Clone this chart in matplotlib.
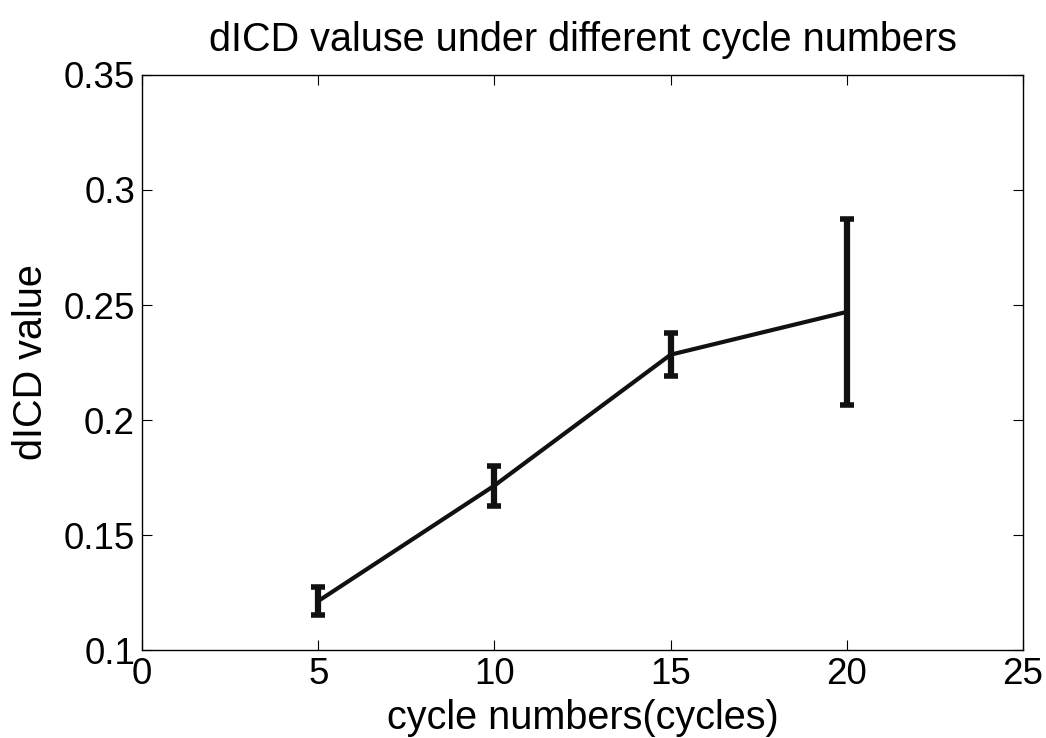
import matplotlib
matplotlib.use("Agg")
import matplotlib.pyplot as plt

cycles = [5, 10, 15, 20]
dicd_mean = [0.1213, 0.1715, 0.2284, 0.2470]
dicd_err = [0.0061, 0.0087, 0.0094, 0.0405]

x_ticks = [0, 5, 10, 15, 20, 25]
y_ticks = [0.1, 0.15, 0.2, 0.25, 0.3, 0.35]
y_tick_labels = ["0.1", "0.15", "0.2", "0.25", "0.3", "0.35"]

plt.rcParams["font.family"] = ["Liberation Sans", "DejaVu Sans"]

fig = plt.figure(figsize=(10.46, 7.38), dpi=100)
ax = fig.add_axes([0.1358, 0.1192, 0.8422, 0.7792])

ax.errorbar(cycles, dicd_mean, yerr=dicd_err, color="#111111", linewidth=3,
            elinewidth=4.5, capsize=5, capthick=4)

ax.set_xlim(0, 25)
ax.set_ylim(0.1, 0.35)
ax.set_xticks(x_ticks)
ax.set_yticks(y_ticks)
ax.set_yticklabels(y_tick_labels)
ax.tick_params(direction="in", top=True, right=True, labelsize=26.5,
               length=7, width=0.8, pad=5)
for s in ax.spines.values():
    s.set_linewidth(1)

ax.set_title("dICD valuse under different cycle numbers", fontsize=28.5, pad=17)
ax.set_xlabel("cycle numbers(cycles)", fontsize=28.5, labelpad=5)
ax.set_ylabel("dICD value", fontsize=28.5, labelpad=10)

fig.savefig("out.png", dpi=100)
